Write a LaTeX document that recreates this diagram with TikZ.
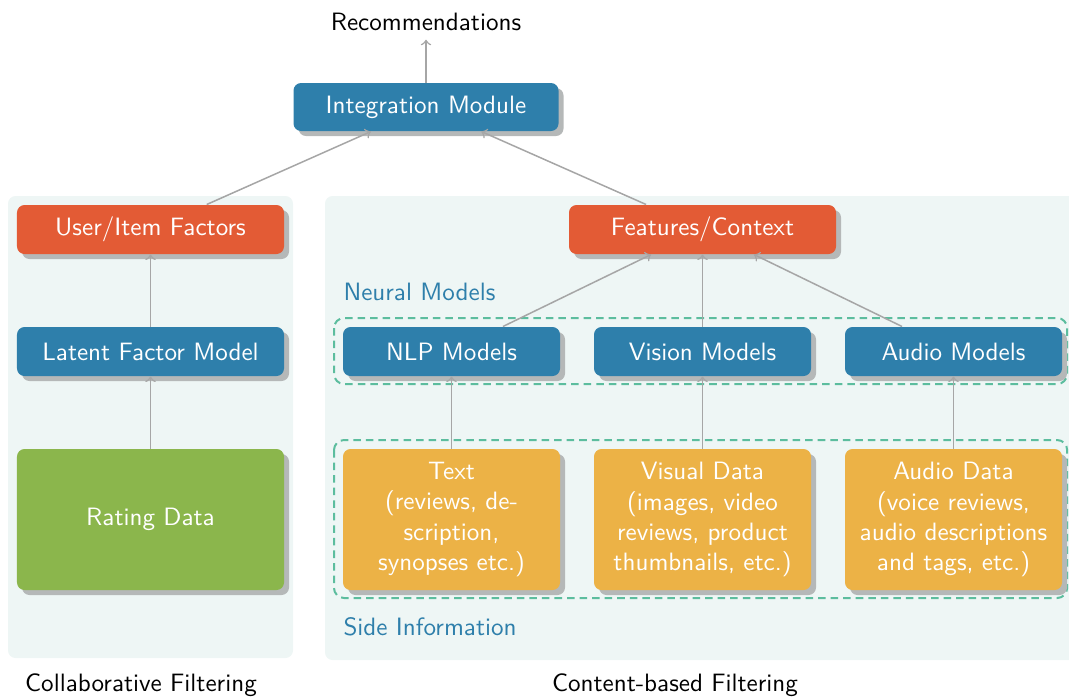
\documentclass[tikz,border=0pt]{standalone}
\usetikzlibrary{shadows}

\definecolor{boxblue}{HTML}{2E7FAB}
\definecolor{boxred}{HTML}{E35B35}
\definecolor{boxgreen}{HTML}{8BB64C}
\definecolor{boxgold}{HTML}{ECB246}
\definecolor{panelbg}{HTML}{EEF6F5}
\definecolor{dashgreen}{HTML}{5CBD9E}
\definecolor{arrowgray}{HTML}{A6A6A6}
\definecolor{shadowgray}{HTML}{B5B8B8}

\begin{document}
\begin{tikzpicture}[
		font=\sffamily,
		box/.style={rounded corners=3pt, text=white, align=center, inner sep=0pt, minimum height=0.686cm,
			drop shadow={shadow xshift=2pt, shadow yshift=-2pt, fill=shadowgray, opacity=1}},
		widebox/.style={box, minimum width=3.738cm},
		modelbox/.style={box, minimum width=3.038cm},
		databox/.style={modelbox, minimum height=1.974cm},
		flow/.style={->, draw=arrowgray, semithick},
		panel/.style={fill=panelbg, rounded corners=3pt},
		group/.style={draw=dashgreen, thick, dash pattern=on 3pt off 2pt, rounded corners=4pt},
		grouplabel/.style={text=boxblue, anchor=west, inner sep=0pt}
	]
		\useasboundingbox ( 0.000, 0.000 ) rectangle ( 14.966, -9.744 );

		% фон
		\fill [panel] ( 0.112, -2.744 ) rectangle ( 4.102, -9.212 );
		\fill [panel] ( 4.550, -2.744 ) rectangle ( 15.200, -9.240 );
		\draw [group] ( 4.676, -4.452 ) rectangle ( 14.940, -5.376 );
		\draw [group] ( 4.676, -6.160 ) rectangle ( 14.940, -8.372 );
		\node [grouplabel] (neurallabel) at ( 4.802, -4.088 ) {Neural Models};
		\node [grouplabel] (sidelabel) at ( 4.802, -8.778 ) {Side Information};

		% верх
		\node (recs) at ( 5.964, -0.308 ) {Recommendations};
		\node [box, fill=boxblue, minimum width=3.71cm, minimum height=0.672cm] (integ) at ( 5.964, -1.498 ) {Integration Module};

		% коллаборативная фильтрация
		\node [widebox, fill=boxred] (factors) at ( 2.107, -3.213 ) {User/Item Factors};
		\node [widebox, fill=boxblue] (latent) at ( 2.107, -4.921 ) {Latent Factor Model};
		\node [widebox, fill=boxgreen, minimum height=1.974cm] (rating) at ( 2.107, -7.273 ) {Rating Data};
		\node [anchor=base] (collab) at ( 1.974, -9.674 ) {Collaborative Filtering};

		% контентная фильтрация
		\node [widebox, fill=boxred] (features) at ( 9.835, -3.213 ) {Features/Context};
		\node [modelbox, fill=boxblue] (nlp) at ( 6.321, -4.921 ) {NLP Models};
		\node [modelbox, fill=boxblue] (vision) at ( 9.835, -4.921 ) {Vision Models};
		\node [modelbox, fill=boxblue] (audio) at ( 13.349, -4.921 ) {Audio Models};
		\node [databox, fill=boxgold] (text) at ( 6.321, -7.273 ) {Text\\(reviews, de-\\scription,\\synopses etc.)};
		\node [databox, fill=boxgold] (visual) at ( 9.835, -7.273 ) {Visual Data\\(images, video\\reviews, product\\thumbnails, etc.)};
		\node [databox, fill=boxgold] (audiodata) at ( 13.349, -7.273 ) {Audio Data\\(voice reviews,\\audio descriptions\\and tags, etc.)};
		\node [anchor=base] (content) at ( 9.450, -9.674 ) {Content-based Filtering};

		% стрелки
		\draw [flow] (integ) -- (recs);
		\draw [flow] (factors) -- (integ);
		\draw [flow] (features) -- (integ);
		\draw [flow] (latent) -- (factors);
		\draw [flow] (rating) -- (latent);
		\draw [flow] (nlp) -- (features);
		\draw [flow] (vision) -- (features);
		\draw [flow] (audio) -- (features);
		\draw [flow] (text) -- (nlp);
		\draw [flow] (visual) -- (vision);
		\draw [flow] (audiodata) -- (audio);
	\end{tikzpicture}
\end{document}
